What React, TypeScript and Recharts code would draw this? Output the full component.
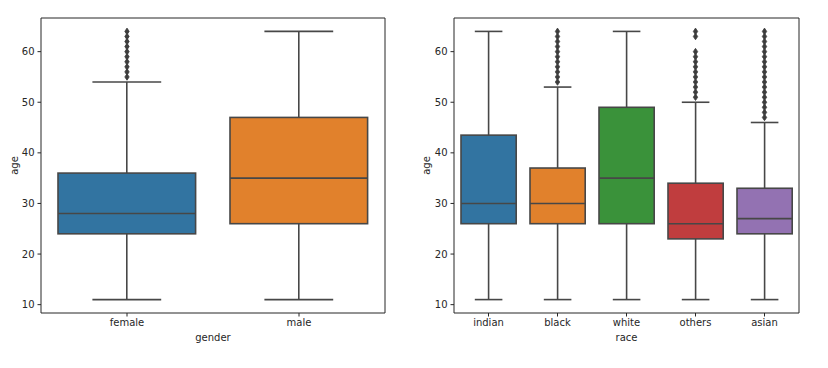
import { ComposedChart, Bar, Scatter, XAxis, YAxis, ReferenceArea } from "recharts";

// age by gender
const genderCats = ["female", "male"];
const genderLow = [11, 11];
const genderQ1 = [24, 26];
const genderMedian = [28, 35];
const genderQ3 = [36, 47];
const genderHigh = [54, 64];
const genderOutliers = [[55, 56, 57, 58, 59, 60, 61, 62, 63, 64], []];

// age by race
const raceCats = ["indian", "black", "white", "others", "asian"];
const raceLow = [11, 11, 11, 11, 11];
const raceQ1 = [26, 26, 26, 23, 24];
const raceMedian = [30, 30, 35, 26, 27];
const raceQ3 = [43.5, 37, 49, 34, 33];
const raceHigh = [64, 53, 64, 50, 46];
const raceOutliers = [
  [],
  [54, 55, 56, 57, 58, 59, 60, 61, 62, 63, 64],
  [],
  [51, 52, 53, 54, 55, 56, 57, 58, 59, 60, 63, 64],
  [47, 48, 49, 50, 51, 52, 53, 54, 55, 56, 57, 58, 59, 60, 61, 62, 63, 64],
];

const yTicks = [10, 20, 30, 40, 50, 60];
const Y_DOMAIN: [number, number] = [8.35, 66.65];

const PALETTE = ["#3274a1", "#e1812c", "#3a923a", "#c03d3e", "#9372b2"];
const GRAY = "#474747";
const FONT = "DejaVu Sans";

type PanelProps = {
  cats: string[];
  low: number[];
  q1: number[];
  median: number[];
  q3: number[];
  high: number[];
  outliers: number[][];
  xLabel: string;
  width: number;
  yAxisWidth: number;
  plotWidth: number;
};

function BoxPanel(p: PanelProps) {
  const n = p.cats.length;
  const boxes = p.cats.map((name, i) => ({
    x: i,
    name,
    lo: p.low[i],
    q1: p.q1[i],
    med: p.median[i],
    q3: p.q3[i],
    hi: p.high[i],
  }));
  const fliers = p.outliers.flatMap((vals, i) => vals.map((v) => ({ x: i, age: v })));
  const boxWidth = (p.plotWidth / n) * 0.8;

  const boxShape = (props: any) => {
    const { x, y, width, height, payload, index } = props;
    const top = Math.min(y, y + height);
    const bottom = Math.max(y, y + height);
    const { lo, q1, med, q3, hi } = payload;
    const py = (v: number) => bottom - ((bottom - top) * (v - lo)) / (hi - lo);
    const cx = x + width / 2;
    const cap = width / 4;
    return (
      <g>
        <line x1={cx} x2={cx} y1={py(hi)} y2={py(q3)} stroke={GRAY} strokeWidth={1.6} />
        <line x1={cx} x2={cx} y1={py(q1)} y2={py(lo)} stroke={GRAY} strokeWidth={1.6} />
        <line x1={cx - cap} x2={cx + cap} y1={py(hi)} y2={py(hi)} stroke={GRAY} strokeWidth={1.6} />
        <line x1={cx - cap} x2={cx + cap} y1={py(lo)} y2={py(lo)} stroke={GRAY} strokeWidth={1.6} />
        <rect
          x={x}
          y={py(q3)}
          width={width}
          height={py(q1) - py(q3)}
          fill={PALETTE[index % PALETTE.length]}
          stroke={GRAY}
          strokeWidth={1.6}
        />
        <line x1={x} x2={x + width} y1={py(med)} y2={py(med)} stroke={GRAY} strokeWidth={1.6} />
      </g>
    );
  };

  const diamond = (props: any) => {
    const { cx, cy } = props;
    const h = 3.3;
    const w = 2.2;
    return (
      <polygon
        points={`${cx},${cy - h} ${cx + w},${cy} ${cx},${cy + h} ${cx - w},${cy}`}
        fill="#3d3d3d"
        stroke="#3d3d3d"
        strokeWidth={0.8}
      />
    );
  };

  const tickStyle = { fontSize: 10, fill: "#262626", fontFamily: FONT };

  return (
    <ComposedChart
      width={p.width}
      height={368}
      data={boxes}
      margin={{ top: 18, right: p.width - p.yAxisWidth - p.plotWidth, bottom: 25, left: 0 }}
    >
      <XAxis
        dataKey="x"
        type="number"
        domain={[-0.5, n - 0.5]}
        ticks={p.cats.map((_, i) => i)}
        tickFormatter={(v: number) => p.cats[v] ?? ""}
        interval={0}
        allowDataOverflow
        height={30}
        axisLine={false}
        tickLine={{ stroke: "#262626" }}
        tickSize={3.5}
        tickMargin={2}
        tick={tickStyle}
        label={{ value: p.xLabel, position: "insideBottom", offset: 2, fontSize: 10, fill: "#262626", fontFamily: FONT }}
      />
      <YAxis
        type="number"
        domain={Y_DOMAIN}
        ticks={yTicks}
        allowDataOverflow
        width={p.yAxisWidth}
        axisLine={false}
        tickLine={{ stroke: "#262626" }}
        tickSize={3.5}
        tickMargin={3}
        tick={tickStyle}
        label={{ value: "age", angle: -90, position: "center", dx: -6, fontSize: 10, fill: "#262626", fontFamily: FONT }}
      />
      <Bar
        dataKey={(d: any) => [d.lo, d.hi]}
        barSize={boxWidth}
        shape={boxShape}
        isAnimationActive={false}
      />
      <Scatter data={fliers} dataKey="age" shape={diamond} isAnimationActive={false} />
      <ReferenceArea
        x1={-0.5}
        x2={n - 0.5}
        y1={Y_DOMAIN[0]}
        y2={Y_DOMAIN[1]}
        fill="none"
        fillOpacity={0}
        stroke="#262626"
        strokeWidth={1}
        ifOverflow="visible"
      />
    </ComposedChart>
  );
}

export default function App() {
  return (
    <div style={{ position: "absolute", left: 0, top: 0, width: 828, height: 368, background: "#fff" }}>
      <div style={{ position: "absolute", left: 0, top: 0 }}>
        <BoxPanel
          cats={genderCats}
          low={genderLow}
          q1={genderQ1}
          median={genderMedian}
          q3={genderQ3}
          high={genderHigh}
          outliers={genderOutliers}
          xLabel="gender"
          width={400}
          yAxisWidth={41}
          plotWidth={344}
        />
      </div>
      <div style={{ position: "absolute", left: 410, top: 0 }}>
        <BoxPanel
          cats={raceCats}
          low={raceLow}
          q1={raceQ1}
          median={raceMedian}
          q3={raceQ3}
          high={raceHigh}
          outliers={raceOutliers}
          xLabel="race"
          width={418}
          yAxisWidth={44}
          plotWidth={345}
        />
      </div>
    </div>
  );
}
